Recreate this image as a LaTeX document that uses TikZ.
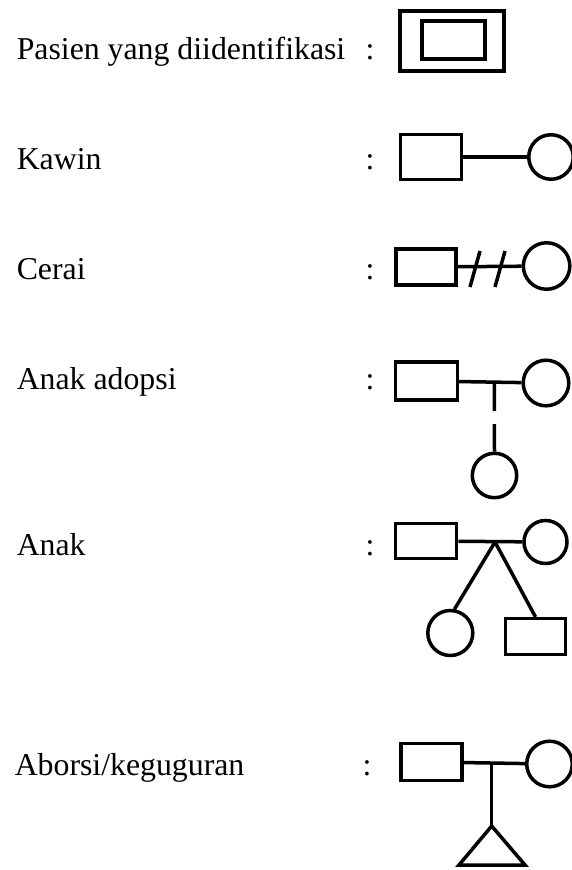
\documentclass[tikz,border=0pt]{standalone}
\usepackage{fontspec}
\setmainfont{Liberation Serif}
\begin{document}
\begin{tikzpicture}[x=1pt,y=-1pt,line width=3.5pt,
  lbl/.style={anchor=base west,inner sep=0pt,font=\fontsize{31.8}{36}\selectfont},
  colon/.style={anchor=base,inner sep=0pt,font=\fontsize{31.8}{36}\selectfont},
  male/.style={draw,rectangle,inner sep=0pt,minimum width=61pt,minimum height=37pt},
  female/.style={draw,circle,inner sep=0pt,minimum size=45pt}]
\useasboundingbox (0,0) rectangle (571,870);

% --- labels ---
\node[lbl] (t1) at (15,59) {Pasien yang diidentifikasi};
\node[colon] (c1) at (370,59) {:};
\node[lbl] (t2) at (15,169) {Kawin};
\node[colon] (c2) at (370,169) {:};
\node[lbl] (t3) at (15,279) {Cerai};
\node[colon] (c3) at (370,279) {:};
\node[lbl] (t4) at (15,389) {Anak adopsi};
\node[colon] (c4) at (370,389) {:};
\node[lbl] (t5) at (15,555) {Anak};
\node[colon] (c5) at (370,555) {:};
\node[lbl] (t6) at (13,775) {Aborsi/keguguran};
\node[colon] (c6) at (367,775) {:};

% --- identified patient: double box ---
\node[draw,line width=3.8pt,inner sep=0pt,minimum width=104pt,minimum height=60pt] (pO) at (452,40.7) {};
\node[draw,line width=3.8pt,inner sep=0pt,minimum width=63pt,minimum height=38pt] (pI) at (453.8,40) {};

% --- marriage ---
\node[male,minimum width=60.7pt,minimum height=45pt] (km) at (431,157) {};
\node[female,minimum size=44.5pt] (kf) at (551,157) {};
\draw (km) -- (kf);

% --- divorce ---
\node[male,minimum width=60pt,minimum height=36pt] (cm) at (426,267) {};
\node[female,minimum size=46.5pt] (cf) at (546.6,266) {};
\draw (cm) -- (cf);
\draw (470,287) -- (480,251);
\draw (495,287) -- (505,251);

% --- adopted child ---
\node[male,minimum width=62pt,minimum height=38pt] (am) at (426.3,381) {};
\node[female,minimum size=45.6pt] (af) at (546,383) {};
\draw (am) -- (af);
\coordinate (aj) at (494.3,382);
\node[female,minimum size=44.4pt] (ac) at (494.5,475.5) {};
\draw[dash pattern=on 29pt off 13pt] (aj) -- (ac.north);

% --- child ---
\node[male,minimum width=61.4pt,minimum height=35pt] (nm) at (426,541) {};
\node[female,minimum size=43pt] (nf) at (545.5,542) {};
\draw (nm) -- (nf);
\coordinate (nj) at (495,542);
\node[female,minimum size=45pt] (nc) at (450.3,633) {};
\node[male,minimum width=60.4pt,minimum height=35.6pt] (ns) at (535.5,636.5) {};
\draw (nj) -- (nc.80);
\draw (nj) -- (ns.north);

% --- abortion / miscarriage ---
\node[male,minimum width=61pt,minimum height=37.3pt] (bm) at (431.5,762) {};
\node[female,minimum size=45.6pt] (bf) at (549.5,764) {};
\draw (bm) -- (bf);
\coordinate (bj) at (491.7,763);
\coordinate (bt) at (491.7,826);
\draw (bj) -- (bt);
\draw (bt) -- (459,865) -- (525,865) -- cycle;
\end{tikzpicture}
\end{document}
